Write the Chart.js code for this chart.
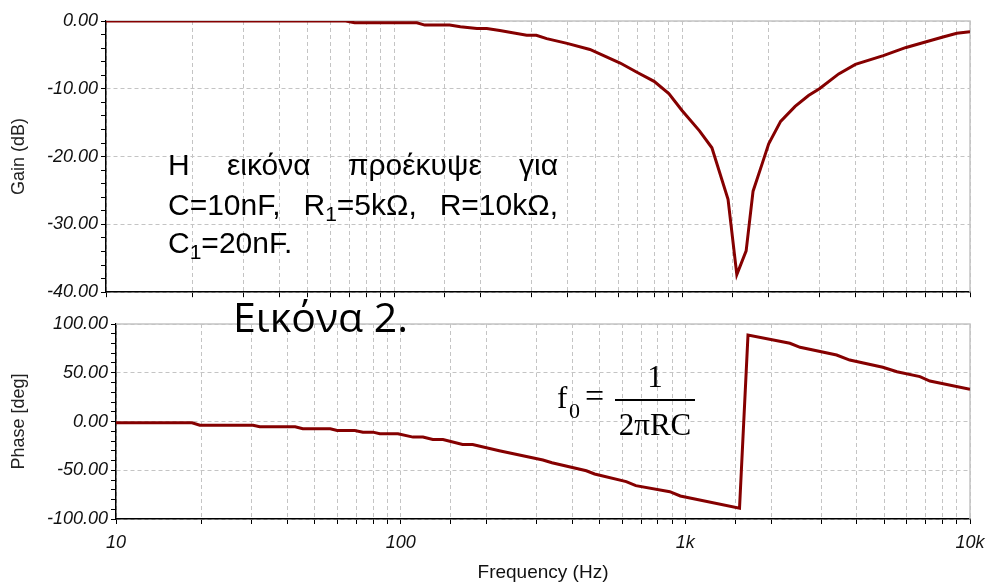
<!DOCTYPE html>
<html>
<head>
<meta charset="utf-8">
<script src="https://cdn.jsdelivr.net/npm/chart.js@4/dist/chart.umd.min.js"></script>
<style>
  body { margin: 0; background: #fff; }
  #wrap { position: relative; width: 994px; height: 584px; overflow: hidden; }
  canvas { position: absolute; left: 0; }
  .txt { position: absolute; color: #000; white-space: nowrap; }
  .note { font-family: "Liberation Sans", Arial, sans-serif; font-size: 30px; line-height: 30px; width: 390px; left: 168px; }
  .just { text-align: justify; text-align-last: justify; }
  .note sub, .frm sub { font-size: 0.7em; vertical-align: -0.28em; line-height: 0; }
  .frm { font-family: "Liberation Serif", "Times New Roman", serif; line-height: 1; }
</style>
</head>
<body>
<div id="wrap">
  <canvas id="gainChart" width="994" height="306" style="top:0"></canvas>
  <canvas id="phaseChart" width="994" height="284" style="top:300px"></canvas>

  <div class="txt note just" style="top:150px">Η εικόνα προέκυψε για</div>
  <div class="txt note just" style="top:190px">C=10nF, R<sub>1</sub>=5kΩ, R=10kΩ,</div>
  <div class="txt note" style="top:228px">C<sub>1</sub>=20nF.</div>

  <div class="txt" style="left:233px; top:296px; font-family:'Open Sans','Noto Sans',sans-serif; font-size:41px; line-height:41px;">Εικόνα 2.</div>

  <div class="txt frm" style="left:557px; top:382px; font-size:31px;">f</div>
  <div class="txt frm" style="left:569px; top:400px; font-size:22px;">0</div>
  <div class="txt frm" style="left:585px; top:379px; font-size:34px;">=</div>
  <div class="txt frm" style="left:615px; top:361px; width:80px; text-align:center; font-size:31px;">1</div>
  <div style="position:absolute; left:615px; top:399px; width:80px; height:2px; background:#000;"></div>
  <div class="txt frm" style="left:615px; top:409px; width:80px; text-align:center; font-size:31px;">2πRC</div>
</div>

<script>
// values
const gainFreq = [10, 68, 73, 120, 128, 156, 170, 194, 210, 233, 289, 312, 339, 399, 479, 610, 700, 800, 900, 1000,
    1150, 1270, 1445, 1550, 1670, 1765, 1900, 2000, 2200, 2470, 2750, 3000, 3500, 4000, 5000, 6000, 7000, 8000, 9000, 10000];
const gainDb = [0, 0, -0.25, -0.25, -0.6, -0.6, -0.85, -1.1, -1.1, -1.4, -2.1, -2.1, -2.6, -3.3, -4.2, -6.2, -7.6, -8.9, -10.7, -13.2,
    -16.2, -18.7, -26.3, -37.4, -33.9, -25.1, -21, -18.1, -14.8, -12.6, -11, -10, -7.8, -6.4, -5.1, -3.9, -3.1, -2.4, -1.8, -1.6];

const phaseFreq = [10, 18.5, 19.7, 30.3, 32, 42.6, 45.3, 56.6, 59.8, 69, 73.7, 79.9, 84.5, 97.8, 110.5, 119.7, 129.7, 140.8,
    165, 179, 222, 316, 340, 449, 480, 620, 670, 882, 960, 1550, 1660, 2330, 2530, 3400, 3780, 4940, 5540, 6670, 7230, 10000];
const phaseDeg = [-1.3, -1.3, -3.8, -3.8, -5.4, -5.4, -7.5, -7.5, -9.2, -9.2, -10.9, -10.9, -12.6, -12.6, -16, -16, -18.5, -18.5,
    -23.6, -23.6, -30, -39.5, -42.3, -50.5, -53.8, -61.7, -65.8, -72, -76.4, -89, 88.7, 80.2, 76.1, 68.2, 63, 55.6, 51, 46, 41.5, 33];

const freqTickLabels = { 10: "10", 100: "100", 1000: "1k", 10000: "10k" };
const gainRange = [-40, 0];
const phaseRange = [-100, 100];

const lineColor = "#850000";
const gridColor = "#c4c4c4";
const tickFont = { family: "'Liberation Sans', Arial, sans-serif", size: 18, style: "italic" };
const titleFont = { family: "'Liberation Sans', Arial, sans-serif", size: 18 };

// light grey top and right edges of the plot box
const frame = {
    id: "frame",
    beforeDatasetsDraw(chart) {
        const { ctx, chartArea: a } = chart;
        ctx.save();
        ctx.strokeStyle = gridColor;
        ctx.lineWidth = 1.5;
        ctx.beginPath();
        ctx.moveTo(a.left, a.top);
        ctx.lineTo(a.right, a.top);
        ctx.lineTo(a.right, a.bottom);
        ctx.stroke();
        ctx.restore();
    }
};

function toPoints(xs, ys) {
    return xs.map((x, i) => ({ x: x, y: ys[i] }));
}

function xAxis(showLabels, height) {
    return {
        type: "logarithmic",
        min: 10,
        max: 10000,
        afterFit: s => { s.height = height; },
        grid: { color: gridColor, tickColor: "#000", tickLength: 5, lineWidth: 1 },
        border: { color: "#000", width: 1.5, dash: [4, 3] },
        ticks: {
            display: showLabels,
            autoSkip: false,
            maxRotation: 0,
            padding: 8,
            color: "#111",
            font: tickFont,
            callback: v => freqTickLabels[v] || ""
        },
        title: {
            display: showLabels,
            text: "Frequency (Hz)",
            color: "#111",
            font: { family: titleFont.family, size: 19 },
            padding: { top: 0, bottom: 0 }
        }
    };
}

function yAxis(range, step, major, width, title) {
    return {
        min: range[0],
        max: range[1],
        afterFit: s => { s.width = width; },
        grid: {
            color: c => (c.tick && c.tick.value % major === 0) ? gridColor : "rgba(0,0,0,0)",
            tickColor: "#000",
            tickLength: 5,
            lineWidth: 1
        },
        border: { color: "#000", width: 1.5, dash: [4, 3] },
        ticks: {
            stepSize: step,
            autoSkip: false,
            padding: 3,
            color: "#111",
            font: tickFont,
            callback: v => (v % major === 0) ? v.toFixed(2) : ""
        },
        title: {
            display: true,
            text: title,
            color: "#222",
            font: titleFont,
            padding: { top: 8, bottom: 0 }
        }
    };
}

new Chart(document.getElementById("gainChart"), {
    type: "line",
    data: {
        datasets: [{
            data: toPoints(gainFreq, gainDb),
            borderColor: lineColor,
            borderWidth: 3,
            pointRadius: 0,
            tension: 0
        }]
    },
    options: {
        responsive: false,
        animation: false,
        layout: { padding: { left: 0, right: 24, top: 21, bottom: 0 } },
        plugins: { legend: { display: false }, tooltip: { enabled: false } },
        scales: {
            x: xAxis(false, 9),
            y: yAxis(gainRange, 2, 10, 106, "Gain (dB)")
        }
    },
    plugins: [frame]
});

new Chart(document.getElementById("phaseChart"), {
    type: "line",
    data: {
        datasets: [{
            data: toPoints(phaseFreq, phaseDeg),
            borderColor: lineColor,
            borderWidth: 3,
            pointRadius: 0,
            tension: 0
        }]
    },
    options: {
        responsive: false,
        animation: false,
        layout: { padding: { left: 0, right: 24, top: 24, bottom: 0 } },
        plugins: { legend: { display: false }, tooltip: { enabled: false } },
        scales: {
            x: xAxis(true, 65),
            y: yAxis(phaseRange, 10, 50, 116, "Phase [deg]")
        }
    },
    plugins: [frame]
});
</script>
</body>
</html>
